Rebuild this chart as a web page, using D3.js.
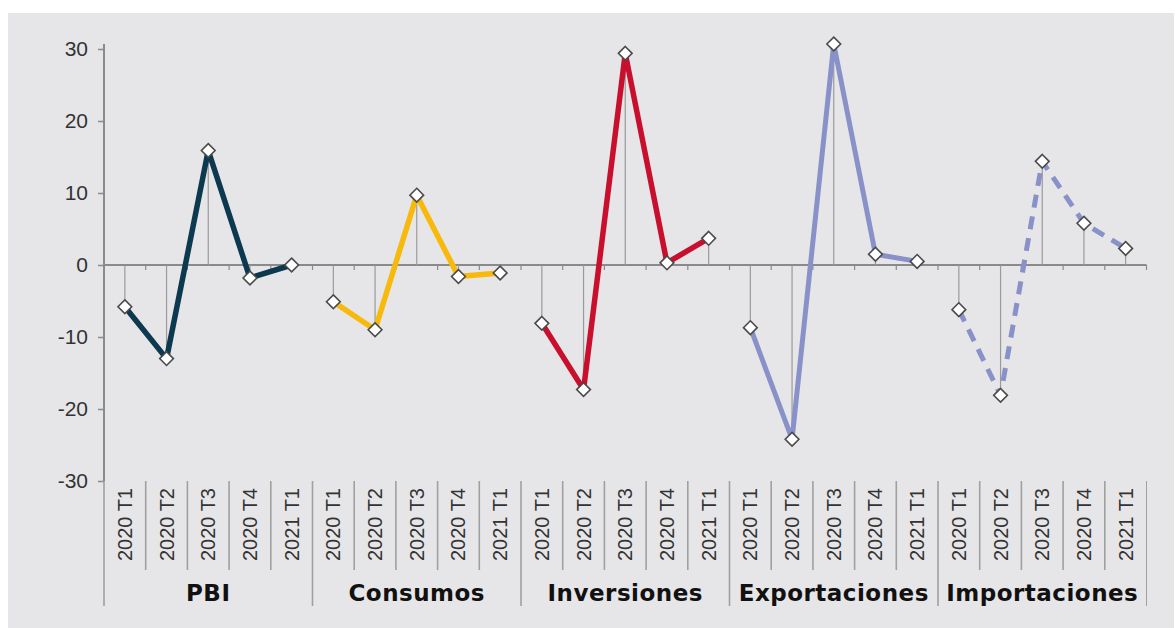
<!DOCTYPE html>
<html>
<head>
<meta charset="utf-8">
<script src="https://cdnjs.cloudflare.com/ajax/libs/d3/7.8.5/d3.min.js"></script>
<style>
  body { margin: 0; background: #fff; }
  svg { display: block; }
</style>
</head>
<body>
<div id="chart"></div>
<script>
// chart size
const width = 1175;
const height = 628;

// data
const groups = ["PBI", "Consumos", "Inversiones", "Exportaciones", "Importaciones"];
const periods = ["2020 T1", "2020 T2", "2020 T3", "2020 T4", "2021 T1"];
const pbi = [-5.8, -13.0, 15.9, -1.8, 0.0];
const consumos = [-5.1, -9.0, 9.7, -1.6, -1.1];
const inversiones = [-8.1, -17.3, 29.4, 0.3, 3.7];
const exportaciones = [-8.7, -24.2, 30.7, 1.5, 0.5];
const importaciones = [-6.2, -18.1, 14.4, 5.8, 2.3];
const yTicks = [-30, -20, -10, 0, 10, 20, 30];

const seriesValues = [pbi, consumos, inversiones, exportaciones, importaciones];
const colors = ["#0c3850", "#f7b90c", "#c8102e", "#8891c8", "#8891c8"];
const dashed = [false, false, false, false, true];

// flat list of points, one per category slot
const points = [];
groups.forEach((g, gi) => {
  periods.forEach((p, pi) => {
    points.push({group: g, gi: gi, period: p, idx: gi * periods.length + pi, value: seriesValues[gi][pi]});
  });
});

const svg = d3.select("#chart")
  .append("svg")
  .attr("width", width)
  .attr("height", height);

// gray panel
svg.append("rect")
  .attr("x", 8).attr("y", 13)
  .attr("width", 1166).attr("height", height - 13)
  .attr("fill", "#e6e6e8");

// scales
const yScale = d3.scaleLinear()
  .domain([-30, 30])
  .range([481, 49]);

const xScale = d3.scaleBand()
  .domain(d3.range(points.length))
  .range([104, 1146.5])
  .padding(0);

const bw = xScale.bandwidth();
const cx = i => xScale(i) + bw / 2;
const axisColor = "#8a8a8a";
const labelFont = "'Liberation Sans', Arial, sans-serif";

// y axis (plain hyphen for negatives, like the original)
const yAxis = svg.append("g")
  .attr("transform", "translate(104,0)")
  .call(d3.axisLeft(yScale).tickValues(yTicks).tickSize(6).tickPadding(10)
    .tickFormat(d => String(d)));
yAxis.select(".domain").attr("stroke", axisColor).attr("stroke-width", 2)
  .attr("d", "M0,44V481");
yAxis.selectAll(".tick line").attr("stroke", axisColor).attr("stroke-width", 1.5);
yAxis.selectAll(".tick text")
  .attr("fill", "#333")
  .attr("font-family", labelFont)
  .attr("font-size", "21px");

// zero line with small ticks at slot borders
svg.append("line")
  .attr("x1", 104).attr("x2", 1146.5)
  .attr("y1", yScale(0)).attr("y2", yScale(0))
  .attr("stroke", axisColor).attr("stroke-width", 2);

svg.append("g").selectAll("line")
  .data(d3.range(1, points.length + 1))
  .enter().append("line")
  .attr("x1", i => i < points.length ? xScale(i) : 1146.5)
  .attr("x2", i => i < points.length ? xScale(i) : 1146.5)
  .attr("y1", yScale(0)).attr("y2", yScale(0) + 5)
  .attr("stroke", axisColor).attr("stroke-width", 1.2);

// drop lines from points to zero
svg.append("g").selectAll("line")
  .data(points)
  .enter().append("line")
  .attr("x1", d => cx(d.idx)).attr("x2", d => cx(d.idx))
  .attr("y1", yScale(0)).attr("y2", d => yScale(d.value))
  .attr("stroke", "#9a9a9a").attr("stroke-width", 1.2);

// category separators
svg.append("g").selectAll("line")
  .data(d3.range(0, points.length + 1))
  .enter().append("line")
  .attr("x1", i => i < points.length ? xScale(i) : 1146.5)
  .attr("x2", i => i < points.length ? xScale(i) : 1146.5)
  .attr("y1", 481)
  .attr("y2", i => i % periods.length === 0 ? 606 : 570)
  .attr("stroke", "#a0a0a0")
  .attr("stroke-width", i => i === points.length ? 1 : 1.6);

// period labels, rotated
svg.append("g").selectAll("text")
  .data(points)
  .enter().append("text")
  .attr("transform", d => `translate(${cx(d.idx) + 7},488) rotate(-90)`)
  .attr("text-anchor", "end")
  .attr("fill", "#333")
  .attr("font-family", labelFont)
  .attr("font-size", "20px")
  .text(d => d.period);

// group labels
svg.append("g").selectAll("text")
  .data(groups)
  .enter().append("text")
  .attr("x", (g, gi) => (xScale(gi * periods.length) + xScale(gi * periods.length + periods.length - 1) + bw) / 2)
  .attr("y", 601)
  .attr("text-anchor", "middle")
  .attr("fill", "#111")
  .attr("font-family", "'DejaVu Sans', Verdana, sans-serif")
  .attr("font-weight", "bold")
  .attr("font-size", "23px")
  .attr("letter-spacing", "0.5px")
  .text(g => g);

// series lines
const line = d3.line()
  .x(d => cx(d.idx))
  .y(d => yScale(d.value));

groups.forEach((g, gi) => {
  svg.append("path")
    .datum(points.filter(d => d.gi === gi))
    .attr("d", line)
    .attr("fill", "none")
    .attr("stroke", colors[gi])
    .attr("stroke-width", gi >= 3 ? 5 : 5.5)
    .attr("stroke-linejoin", "round")
    .attr("stroke-dasharray", dashed[gi] ? "13,9" : null);
});

// diamond markers
const diamond = d3.symbol().type(d3.symbolDiamond2).size(120);
svg.append("g").selectAll("path")
  .data(points)
  .enter().append("path")
  .attr("d", diamond)
  .attr("transform", d => `translate(${cx(d.idx)},${yScale(d.value)})`)
  .attr("fill", "#fff")
  .attr("stroke", "#4a4a4a")
  .attr("stroke-width", 1.6);
</script>
</body>
</html>
